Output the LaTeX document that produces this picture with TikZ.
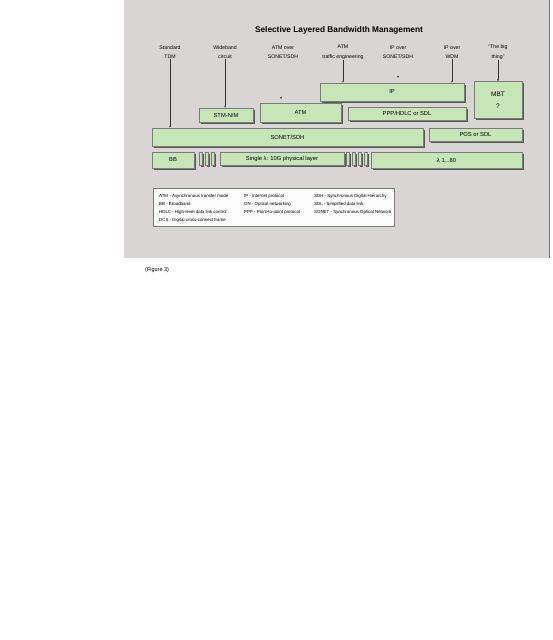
\documentclass[tikz,border=0pt]{standalone}
\usepackage{fontspec}
\setmainfont{Liberation Sans}
\usetikzlibrary{shadows,arrows.meta}
\definecolor{panel}{HTML}{DAD5D5}
\definecolor{boxgreen}{HTML}{C6E6B8}
\definecolor{edge}{HTML}{7A7A7A}
\tikzset{
  box/.style={draw=edge, line width=0.5pt, fill=boxgreen, inner sep=0pt,
    drop shadow={shadow xshift=1.6pt, shadow yshift=-1.6pt, fill=black!65, opacity=1},
    font=\fontsize{5.8}{7}\selectfont, align=center},
  bar/.style={box, minimum width=3pt, minimum height=13pt},
  lab/.style={font=\fontsize{5.2}{9.5}\selectfont, align=center, inner sep=0.5pt},
  legtext/.style={font=\fontsize{4.4}{5}\selectfont, anchor=west, inner sep=0pt},
  arr/.style={draw=black!80, line width=0.5pt, -{Stealth[length=2.2pt,width=1.8pt]}},
}
\begin{document}
\begin{tikzpicture}[x=1pt,y=-1pt]
\useasboundingbox (0,0) rectangle (552,640);
\fill[white] (0,0) rectangle (552,640);
\fill[panel] (124,0) rectangle (549,258);
\draw[black!55, line width=1pt] (549,0) -- (549,258);

\node[font=\bfseries\fontsize{8.3}{10}\selectfont] (title) at (339,30) {Selective Layered Bandwidth Management};

% top labels
\node[lab] (l1) at (170,52) {Standard\\TDM};
\node[lab] (l2) at (225,52) {Wideband\\circuit};
\node[lab] (l3) at (283,52) {ATM over\\SONET/SDH};
\node[lab] (l4) at (343,52) {ATM\\traffic engineering};
\node[lab] (l5) at (398,52) {IP over\\SONET/SDH};
\node[lab] (l6) at (452,52) {IP over\\WDM};
\node[lab] (l7) at (498,52) {“The big\\thing”};

% boxes
\node[box, minimum width=144pt, minimum height=18pt] (ip) at (392,92) {IP};
\node[box, minimum width=48pt, minimum height=37pt, font=\fontsize{6.5}{7}\selectfont] (mbt) at (498,100) {MBT\\[5pt]?};
\node[box, minimum width=54pt, minimum height=14pt] (stm) at (226,115) {STM-N/M};
\node[box, minimum width=81pt, minimum height=19pt] (atm) at (300.5,112.5) {ATM};
\node[box, minimum width=118pt, minimum height=13pt] (ppp) at (407,113.5) {PPP/HDLC or SDL};
\node[box, minimum width=271pt, minimum height=18pt] (sonet) at (287.5,137) {SONET/SDH};
\node[box, minimum width=93pt, minimum height=13pt] (pos) at (475.5,134.5) {POS or SDL};

\node[box, minimum width=42pt, minimum height=16pt] (bb) at (173,160) {BB};
\node[bar] (b1) at (201,158.5) {};
\node[bar] (b2) at (207,158.5) {};
\node[bar] (b3) at (213,158.5) {};
\node[box, minimum width=124pt, minimum height=13pt] (single) at (282,158.5) {Single λ: 10G physical layer};
\node[bar] (b4) at (348,158.5) {};
\node[bar] (b5) at (354,158.5) {};
\node[bar] (b6) at (360,158.5) {};
\node[bar] (b7) at (366,158.5) {};
\node[box, minimum width=151pt, minimum height=16pt] (lam) at (446.5,160) {λ 1...80};

% connectors
\draw[arr] (l1.south) -- (l1.south |- sonet.north);
\draw[arr] (l2.south) -- (l2.south |- stm.north);
\coordinate (c3) at (281,96.5);
\draw[arr] (c3) -- ++(0,2.6);
\draw[arr] (l4.south) -- (l4.south |- ip.north);
\coordinate (c5) at (398,75.5);
\draw[arr] (c5) -- ++(0,2.6);
\draw[arr] (l6.south) -- (l6.south |- ip.north);
\draw[arr] (l7.south) -- (l7.south |- mbt.north);

% legend
\node[draw=edge, fill=white!93!panel, line width=0.5pt, minimum width=241pt, minimum height=38pt, inner sep=0pt,
  drop shadow={shadow xshift=1.4pt, shadow yshift=-1.4pt, fill=black!55, opacity=1}] (legend) at (273.5,207) {};
\node[legtext] (g1) at (159,196) {ATM - Asynchronous transfer mode};
\node[legtext] (g2) at (159,204) {BB - Broadband};
\node[legtext] (g3) at (159,212) {HDLC - High-level data link control};
\node[legtext] (g4) at (159,220) {DCS - Digital cross-connect frame};
\node[legtext] (g5) at (244,196) {IP - Internet protocol};
\node[legtext] (g6) at (244,204) {ON - Optical networking};
\node[legtext] (g7) at (244,212) {PPP - Point-to-point protocol};
\node[legtext] (g8) at (314,196) {SDH - Synchronous Digital Hierarchy};
\node[legtext] (g9) at (314,204) {SDL - Simplified data link};
\node[legtext] (g10) at (314,212) {SONET - Synchronous Optical Network};

\node[font=\fontsize{5.5}{6}\selectfont, anchor=west, inner sep=0pt] (cap) at (145,270) {(Figure 3)};
\end{tikzpicture}
\end{document}
